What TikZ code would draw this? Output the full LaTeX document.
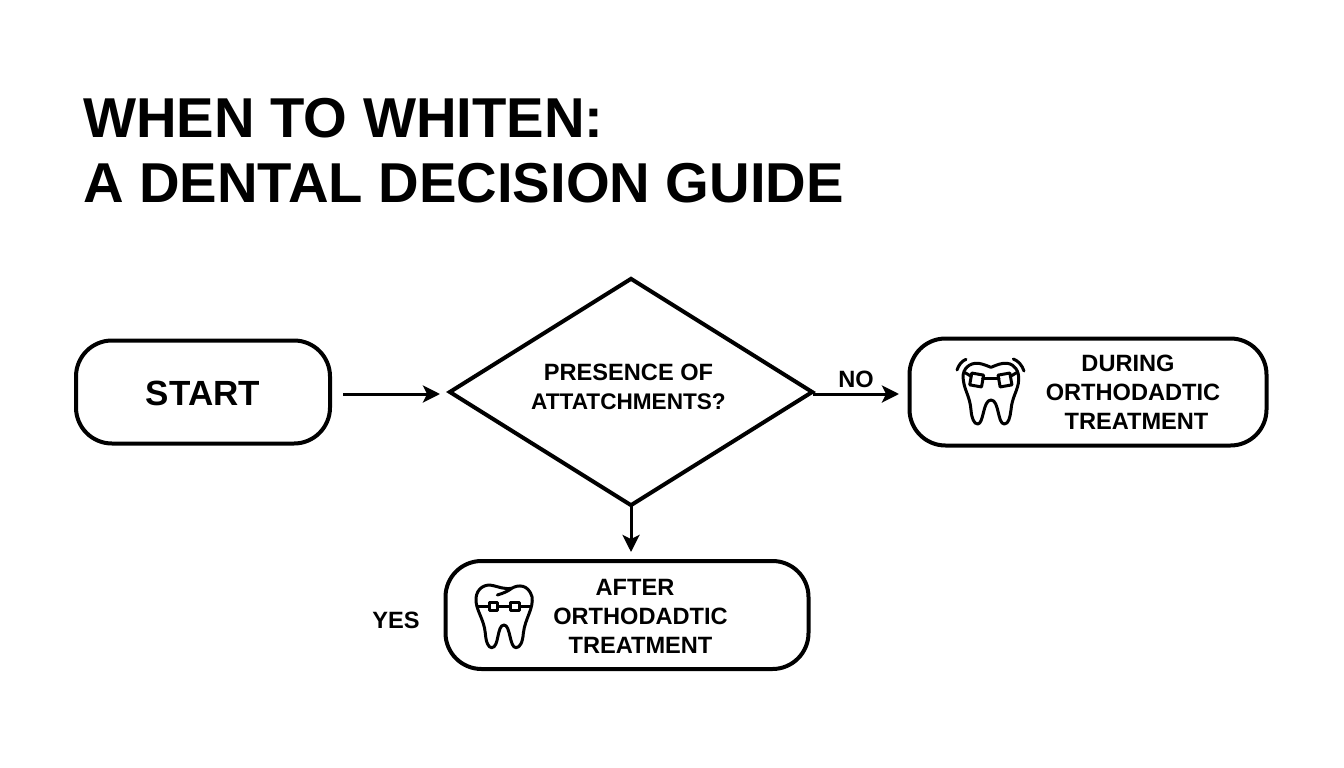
\documentclass[tikz,border=0pt]{standalone}
\usepackage{fontspec}
\setmainfont{Liberation Sans}
\usetikzlibrary{arrows.meta,shapes.geometric}
\tikzset{
  x=1pt,y=-1pt,
  box/.style={draw=black,line width=4pt,rounded corners=36pt,fill=white,inner sep=0pt},
  conn/.style={draw=black,line width=3pt,-{Stealth[length=17pt,width=17pt,inset=4pt]}},
  lab/.style={font=\bfseries\fontsize{23.6}{29}\selectfont,align=center,inner sep=0pt,text=black},
  ttl/.style={font=\bfseries\fontsize{56.2}{66}\selectfont,anchor=west,inner sep=0pt,text=black},
  tline/.style={draw=black,line width=3pt,line cap=round,line join=round},
}
\begin{document}
\begin{tikzpicture}
\useasboundingbox (0,0) rectangle (1344,768);
\fill[white] (0,0) rectangle (1344,768);
\node[ttl] (t1) at (83,118) {WHEN TO WHITEN:};
\node[ttl] (t2) at (83,183) {A DENTAL DECISION GUIDE};

\node[box,minimum width=254pt,minimum height=103pt] (start) at (203,392) {};
\node[lab,font=\bfseries\fontsize{35}{40}\selectfont] (starttxt) at (203,393) {START};

\node[diamond,draw=black,line width=4pt,fill=white,aspect=1.6,inner sep=0pt,minimum width=364pt,minimum height=228pt] (dec) at (631,392) {};
\node[lab] (dectxt) at (628.5,387) {PRESENCE OF\\{\fontsize{22.6}{29}\selectfont ATTATCHMENTS?}};

\node[box,minimum width=357pt,minimum height=107pt] (during) at (1088,392) {};
\node[lab] (durtxt) at (1133,392) {\kern-10pt DURING\\ORTHODADTIC\\\kern7pt TREATMENT};

\node[box,minimum width=363pt,minimum height=108pt] (after) at (627,615) {};
\node[lab] (afttxt) at (640.5,616) {\kern-11pt AFTER\\ORTHODADTIC\\TREATMENT};

\coordinate (sa) at (343,394);
\coordinate (sb) at (440,394);
\draw[conn] (sa) -- (sb);
\coordinate (nb) at (899,394);
\draw[conn,shorten <=-2pt] (dec.east |- nb) -- (nb);
\coordinate (ya) at (631,552);
\draw[conn,shorten <=-4pt] (dec.south) -- (ya);
\node[lab] (no) at (856,379) {NO};
\node[lab] (yes) at (396,620) {YES};

% tooth during
\begin{scope}[shift={(910,330)},x=0.3333pt,y=-0.3333pt]
\draw[tline] (243,112) .. controls (225,105) and (210,98) .. (195,100)
  .. controls (170,103) and (155,125) .. (160,150)
  .. controls (163,180) and (180,200) .. (183,240)
  .. controls (185,265) and (192,282) .. (203,282)
  .. controls (222,282) and (218,210) .. (243,210)
  .. controls (268,210) and (262,282) .. (283,282)
  .. controls (296,282) and (300,262) .. (303,240)
  .. controls (306,200) and (325,180) .. (326,150)
  .. controls (328,125) and (315,103) .. (292,100)
  .. controls (275,98) and (260,105) .. (243,112) -- cycle;
\draw[tline,fill=white,rotate around={-10:(200,150)}] (182,132) rectangle (218,168);
\draw[tline,fill=white,rotate around={10:(285,150)}] (267,132) rectangle (303,168);
\draw[tline] (165,128) -- (182,138);
\draw[tline] (218,146) -- (267,146);
\draw[tline] (303,138) -- (320,128);
\draw[tline] (141,120) .. controls (146,105) and (155,93) .. (168,88);
\draw[tline] (342,123) .. controls (336,106) and (326,93) .. (310,87);
\end{scope}

% tooth after
\begin{scope}[shift={(440,555)},x=0.3333pt,y=-0.3333pt]
\draw[tline] (172,120) .. controls (190,115) and (205,108) .. (215,100)
  .. controls (235,88) and (265,88) .. (276,125)
  .. controls (282,160) and (255,190) .. (250,235)
  .. controls (248,262) and (240,278) .. (228,278)
  .. controls (208,278) and (212,210) .. (192,210)
  .. controls (170,210) and (178,278) .. (155,278)
  .. controls (145,278) and (138,262) .. (136,235)
  .. controls (132,190) and (106,165) .. (108,130)
  .. controls (110,100) and (135,85) .. (160,92)
  .. controls (175,95) and (190,103) .. (215,100);
\draw[tline] (115,155) -- (148,155);
\draw[tline] (172,155) -- (213,155);
\draw[tline] (238,155) -- (270,155);
\draw[tline,fill=white] (148,143) rectangle (172,167);
\draw[tline,fill=white] (213,143) rectangle (238,167);
\end{scope}
\end{tikzpicture}
\end{document}
